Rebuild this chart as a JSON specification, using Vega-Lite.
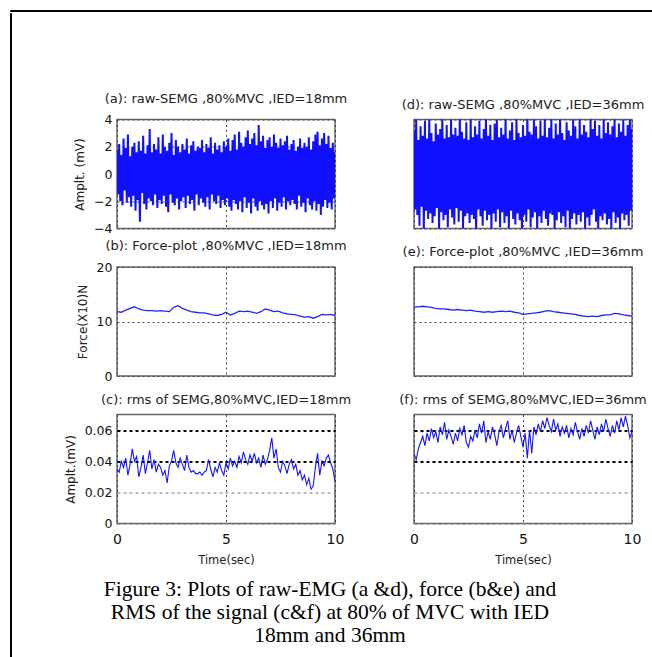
{
"$schema": "https://vega.github.io/schema/vega-lite/v6.json",
"background": "white",
"padding": {"left": 9, "top": 9, "right": 0, "bottom": 0},
"spacing": 0,
"datasets": {
"raw": [
{"t":0,"a":1.8,"d":3.2},{"t":0.05,"a":-1.5,"d":-2.6},{"t":0.1,"a":2.2,"d":4.2},{"t":0.15,"a":-2.0,"d":-3.0},{"t":0.2,"a":1.4,"d":2.5},{"t":0.25,"a":-2.3,"d":-3.8},{"t":0.3,"a":2.6,"d":3.5},{"t":0.35,"a":-1.2,"d":-2.4},{"t":0.4,"a":1.9,"d":2.8},{"t":0.45,"a":-2.1,"d":-4.3},{"t":0.5,"a":2.9,"d":3.9},{"t":0.55,"a":-1.7,"d":-2.7},{"t":0.6,"a":1.3,"d":2.6},{"t":0.65,"a":-2.4,"d":-3.3},{"t":0.7,"a":2.0,"d":4.1},{"t":0.75,"a":-1.6,"d":-2.9},{"t":0.8,"a":2.3,"d":3.0},{"t":0.85,"a":-2.7,"d":-3.6},{"t":0.9,"a":1.6,"d":2.4},{"t":0.95,"a":-1.9,"d":-3.1},
{"t":1,"a":2.4,"d":3.7},{"t":1.05,"a":-3.5,"d":-2.5},{"t":1.1,"a":1.7,"d":2.9},{"t":1.15,"a":-1.4,"d":-4.1},{"t":1.2,"a":2.8,"d":3.3},{"t":1.25,"a":-2.2,"d":-2.8},{"t":1.3,"a":1.5,"d":4.4},{"t":1.35,"a":-2.6,"d":-3.4},{"t":1.4,"a":2.1,"d":2.6},{"t":1.45,"a":-1.8,"d":-3.0},{"t":1.5,"a":3.3,"d":3.6},{"t":1.55,"a":-2.0,"d":-3.9},{"t":1.6,"a":1.6,"d":2.7},{"t":1.65,"a":-2.3,"d":-2.6},{"t":1.7,"a":2.2,"d":4.0},{"t":1.75,"a":-1.5,"d":-3.2},{"t":1.8,"a":1.8,"d":2.9},{"t":1.85,"a":-2.5,"d":-3.7},{"t":1.9,"a":2.7,"d":3.4},{"t":1.95,"a":-1.9,"d":-2.5},
{"t":2,"a":1.5,"d":2.8},{"t":2.05,"a":-2.2,"d":-3.5},{"t":2.1,"a":2.9,"d":4.3},{"t":2.15,"a":-1.6,"d":-2.7},{"t":2.2,"a":2.0,"d":3.1},{"t":2.25,"a":-2.4,"d":-4.0},{"t":2.3,"a":1.7,"d":2.6},{"t":2.35,"a":-2.8,"d":-3.1},{"t":2.4,"a":2.3,"d":3.8},{"t":2.45,"a":-1.5,"d":-2.9},{"t":2.5,"a":3.0,"d":2.5},{"t":2.55,"a":-2.1,"d":-3.6},{"t":2.6,"a":1.4,"d":4.2},{"t":2.65,"a":-2.3,"d":-3.0},{"t":2.7,"a":2.5,"d":2.7},{"t":2.75,"a":-1.8,"d":-3.3},{"t":2.8,"a":2.0,"d":3.5},{"t":2.85,"a":-2.6,"d":-4.4},{"t":2.9,"a":1.6,"d":2.9},{"t":2.95,"a":-2.0,"d":-2.6},
{"t":3,"a":2.2,"d":3.9},{"t":3.05,"a":-1.7,"d":-3.1},{"t":3.1,"a":1.8,"d":2.6},{"t":3.15,"a":-2.5,"d":-3.8},{"t":3.2,"a":2.6,"d":3.3},{"t":3.25,"a":-1.6,"d":-2.7},{"t":3.3,"a":1.5,"d":4.1},{"t":3.35,"a":-2.2,"d":-3.4},{"t":3.4,"a":2.1,"d":2.8},{"t":3.45,"a":-1.9,"d":-3.0},{"t":3.5,"a":2.4,"d":3.6},{"t":3.55,"a":-2.7,"d":-4.2},{"t":3.6,"a":1.7,"d":2.5},{"t":3.65,"a":-1.5,"d":-2.9},{"t":3.7,"a":2.0,"d":3.7},{"t":3.75,"a":-2.3,"d":-3.5},{"t":3.8,"a":1.9,"d":4.0},{"t":3.85,"a":-1.8,"d":-2.6},{"t":3.9,"a":2.5,"d":2.7},{"t":3.95,"a":-2.1,"d":-3.9},
{"t":4,"a":1.6,"d":3.4},{"t":4.05,"a":-2.4,"d":-2.8},{"t":4.1,"a":2.2,"d":2.9},{"t":4.15,"a":-1.7,"d":-3.6},{"t":4.2,"a":1.9,"d":4.3},{"t":4.25,"a":-2.6,"d":-3.1},{"t":4.3,"a":2.7,"d":2.6},{"t":4.35,"a":-1.5,"d":-4.0},{"t":4.4,"a":1.5,"d":3.2},{"t":4.45,"a":-2.0,"d":-2.7},{"t":4.5,"a":2.3,"d":3.8},{"t":4.55,"a":-2.2,"d":-3.3},{"t":4.6,"a":1.8,"d":2.5},{"t":4.65,"a":-1.6,"d":-3.7},{"t":4.7,"a":2.1,"d":4.1},{"t":4.75,"a":-2.5,"d":-2.9},{"t":4.8,"a":1.6,"d":3.0},{"t":4.85,"a":-1.9,"d":-3.4},{"t":4.9,"a":2.4,"d":2.7},{"t":4.95,"a":-2.3,"d":-4.1},
{"t":5,"a":2.0,"d":3.6},{"t":5.05,"a":-1.8,"d":-3.0},{"t":5.1,"a":2.6,"d":2.8},{"t":5.15,"a":-2.4,"d":-3.5},{"t":5.2,"a":1.7,"d":4.4},{"t":5.25,"a":-2.7,"d":-2.6},{"t":5.3,"a":2.5,"d":3.1},{"t":5.35,"a":-1.9,"d":-3.9},{"t":5.4,"a":2.9,"d":2.9},{"t":5.45,"a":-2.2,"d":-3.2},{"t":5.5,"a":1.8,"d":4.0},{"t":5.55,"a":-2.6,"d":-2.8},{"t":5.6,"a":3.1,"d":3.5},{"t":5.65,"a":-2.0,"d":-4.3},{"t":5.7,"a":2.3,"d":2.6},{"t":5.75,"a":-2.8,"d":-3.1},{"t":5.8,"a":2.0,"d":3.9},{"t":5.85,"a":-1.7,"d":-3.6},{"t":5.9,"a":2.7,"d":2.8},{"t":5.95,"a":-2.5,"d":-2.7},
{"t":6,"a":3.2,"d":4.2},{"t":6.05,"a":-2.1,"d":-3.3},{"t":6.1,"a":2.2,"d":2.7},{"t":6.15,"a":-2.9,"d":-3.8},{"t":6.2,"a":2.6,"d":3.4},{"t":6.25,"a":-1.8,"d":-2.9},{"t":6.3,"a":3.0,"d":4.1},{"t":6.35,"a":-2.4,"d":-3.0},{"t":6.4,"a":2.1,"d":2.6},{"t":6.45,"a":-2.7,"d":-4.2},{"t":6.5,"a":3.6,"d":3.7},{"t":6.55,"a":-2.0,"d":-3.4},{"t":6.6,"a":2.4,"d":2.9},{"t":6.65,"a":-2.3,"d":-2.8},{"t":6.7,"a":2.8,"d":4.3},{"t":6.75,"a":-2.6,"d":-3.6},{"t":6.8,"a":1.9,"d":3.0},{"t":6.85,"a":-2.2,"d":-3.1},{"t":6.9,"a":2.5,"d":2.5},{"t":6.95,"a":-2.9,"d":-3.9},
{"t":7,"a":2.7,"d":3.8},{"t":7.05,"a":-2.0,"d":-2.7},{"t":7.1,"a":2.0,"d":3.2},{"t":7.15,"a":-2.5,"d":-4.0},{"t":7.2,"a":2.9,"d":2.8},{"t":7.25,"a":-1.8,"d":-3.3},{"t":7.3,"a":2.3,"d":4.0},{"t":7.35,"a":-2.7,"d":-2.9},{"t":7.4,"a":1.9,"d":3.5},{"t":7.45,"a":-2.1,"d":-3.7},{"t":7.5,"a":2.6,"d":2.6},{"t":7.55,"a":-2.4,"d":-3.0},{"t":7.6,"a":2.1,"d":4.2},{"t":7.65,"a":-1.7,"d":-3.5},{"t":7.7,"a":2.4,"d":2.9},{"t":7.75,"a":-2.6,"d":-2.8},{"t":7.8,"a":2.8,"d":3.6},{"t":7.85,"a":-2.0,"d":-4.1},{"t":7.9,"a":1.8,"d":3.1},{"t":7.95,"a":-2.3,"d":-3.2},
{"t":8,"a":2.2,"d":2.7},{"t":8.05,"a":-1.9,"d":-3.8},{"t":8.1,"a":2.5,"d":4.1},{"t":8.15,"a":-2.2,"d":-3.0},{"t":8.2,"a":1.7,"d":3.3},{"t":8.25,"a":-2.6,"d":-2.6},{"t":8.3,"a":2.0,"d":3.9},{"t":8.35,"a":-1.6,"d":-3.5},{"t":8.4,"a":2.6,"d":2.8},{"t":8.45,"a":-2.4,"d":-4.2},{"t":8.5,"a":1.9,"d":3.6},{"t":8.55,"a":-2.1,"d":-3.1},{"t":8.6,"a":2.3,"d":2.6},{"t":8.65,"a":-2.8,"d":-3.4},{"t":8.7,"a":2.0,"d":4.3},{"t":8.75,"a":-1.8,"d":-2.9},{"t":8.8,"a":2.7,"d":3.0},{"t":8.85,"a":-2.3,"d":-3.7},{"t":8.9,"a":1.8,"d":3.8},{"t":8.95,"a":-2.6,"d":-3.3},
{"t":9,"a":2.4,"d":2.9},{"t":9.05,"a":-2.0,"d":-4.0},{"t":9.1,"a":2.9,"d":3.5},{"t":9.15,"a":-2.7,"d":-2.8},{"t":9.2,"a":3.1,"d":4.2},{"t":9.25,"a":-2.2,"d":-3.6},{"t":9.3,"a":2.1,"d":2.7},{"t":9.35,"a":-3.0,"d":-3.2},{"t":9.4,"a":2.6,"d":3.7},{"t":9.45,"a":-2.4,"d":-4.1},{"t":9.5,"a":3.0,"d":3.1},{"t":9.55,"a":-1.9,"d":-2.9},{"t":9.6,"a":2.2,"d":4.0},{"t":9.65,"a":-2.5,"d":-3.4},{"t":9.7,"a":2.8,"d":2.8},{"t":9.75,"a":-2.1,"d":-3.0},{"t":9.8,"a":1.9,"d":3.6},{"t":9.85,"a":-2.6,"d":-3.8},{"t":9.9,"a":2.3,"d":4.1},{"t":9.95,"a":-1.8,"d":-2.7},{"t":10,"a":1.6,"d":3.3}
],
"force": [
{"t":0,"b":11.8,"e":12.7},{"t":0.2,"b":11.7,"e":12.7},{"t":0.4,"b":12.1,"e":12.8},{"t":0.6,"b":12.4,"e":12.7},{"t":0.8,"b":12.7,"e":12.6},{"t":1.0,"b":12.3,"e":12.4},{"t":1.2,"b":12.1,"e":12.3},{"t":1.4,"b":12.0,"e":12.3},{"t":1.6,"b":12.0,"e":12.2},{"t":1.8,"b":11.9,"e":12.1},
{"t":2.0,"b":12.0,"e":12.2},{"t":2.2,"b":11.9,"e":12.1},{"t":2.4,"b":11.8,"e":12.0},{"t":2.6,"b":12.6,"e":12.1},{"t":2.8,"b":12.9,"e":11.9},{"t":3.0,"b":12.4,"e":11.8},{"t":3.2,"b":12.1,"e":11.7},{"t":3.4,"b":11.8,"e":11.8},{"t":3.6,"b":11.7,"e":11.7},{"t":3.8,"b":11.6,"e":11.8},
{"t":4.0,"b":11.6,"e":11.9},{"t":4.2,"b":11.4,"e":11.8},{"t":4.4,"b":11.2,"e":11.9},{"t":4.6,"b":11.1,"e":11.7},{"t":4.8,"b":11.3,"e":11.6},{"t":5.0,"b":11.7,"e":11.3},{"t":5.2,"b":11.2,"e":11.4},{"t":5.4,"b":11.5,"e":11.5},{"t":5.6,"b":11.9,"e":11.6},{"t":5.8,"b":11.8,"e":11.7},
{"t":6.0,"b":11.9,"e":11.9},{"t":6.2,"b":11.7,"e":12.0},{"t":6.4,"b":11.5,"e":11.8},{"t":6.6,"b":11.8,"e":11.7},{"t":6.8,"b":12.3,"e":11.6},{"t":7.0,"b":12.1,"e":11.5},{"t":7.2,"b":11.8,"e":11.4},{"t":7.4,"b":11.9,"e":11.3},{"t":7.6,"b":11.6,"e":11.1},{"t":7.8,"b":11.4,"e":11.0},
{"t":8.0,"b":11.3,"e":10.9},{"t":8.2,"b":11.2,"e":11.0},{"t":8.4,"b":11.0,"e":10.9},{"t":8.6,"b":10.8,"e":11.1},{"t":8.8,"b":10.9,"e":11.2},{"t":9.0,"b":10.6,"e":11.2},{"t":9.2,"b":10.9,"e":11.5},{"t":9.4,"b":11.3,"e":11.4},{"t":9.6,"b":11.2,"e":11.2},{"t":9.8,"b":11.3,"e":11.1},{"t":10.0,"b":11.1,"e":11.0}
],
"rms": [
{"t":0,"c":0.035,"f":0.045},{"t":0.1,"c":0.033,"f":0.041},{"t":0.2,"c":0.040,"f":0.048},{"t":0.3,"c":0.036,"f":0.052},{"t":0.4,"c":0.042,"f":0.056},{"t":0.5,"c":0.031,"f":0.050},{"t":0.6,"c":0.038,"f":0.058},{"t":0.7,"c":0.048,"f":0.053},{"t":0.8,"c":0.040,"f":0.061},{"t":0.9,"c":0.043,"f":0.055},
{"t":1.0,"c":0.030,"f":0.059},{"t":1.1,"c":0.036,"f":0.052},{"t":1.2,"c":0.044,"f":0.062},{"t":1.3,"c":0.032,"f":0.057},{"t":1.4,"c":0.039,"f":0.065},{"t":1.5,"c":0.047,"f":0.054},{"t":1.6,"c":0.035,"f":0.060},{"t":1.7,"c":0.041,"f":0.056},{"t":1.8,"c":0.033,"f":0.051},{"t":1.9,"c":0.038,"f":0.058},
{"t":2.0,"c":0.036,"f":0.053},{"t":2.1,"c":0.031,"f":0.061},{"t":2.2,"c":0.034,"f":0.057},{"t":2.3,"c":0.026,"f":0.063},{"t":2.4,"c":0.037,"f":0.052},{"t":2.5,"c":0.040,"f":0.049},{"t":2.6,"c":0.047,"f":0.056},{"t":2.7,"c":0.039,"f":0.053},{"t":2.8,"c":0.036,"f":0.060},{"t":2.9,"c":0.042,"f":0.055},
{"t":3.0,"c":0.038,"f":0.064},{"t":3.1,"c":0.034,"f":0.058},{"t":3.2,"c":0.044,"f":0.066},{"t":3.3,"c":0.036,"f":0.052},{"t":3.4,"c":0.033,"f":0.059},{"t":3.5,"c":0.034,"f":0.054},{"t":3.6,"c":0.032,"f":0.062},{"t":3.7,"c":0.032,"f":0.057},{"t":3.8,"c":0.033,"f":0.050},{"t":3.9,"c":0.031,"f":0.059},
{"t":4.0,"c":0.033,"f":0.063},{"t":4.1,"c":0.034,"f":0.055},{"t":4.2,"c":0.041,"f":0.061},{"t":4.3,"c":0.035,"f":0.066},{"t":4.4,"c":0.030,"f":0.054},{"t":4.5,"c":0.036,"f":0.060},{"t":4.6,"c":0.033,"f":0.052},{"t":4.7,"c":0.039,"f":0.058},{"t":4.8,"c":0.034,"f":0.063},{"t":4.9,"c":0.031,"f":0.056},
{"t":5.0,"c":0.039,"f":0.049},{"t":5.1,"c":0.035,"f":0.058},{"t":5.2,"c":0.042,"f":0.042},{"t":5.3,"c":0.037,"f":0.060},{"t":5.4,"c":0.040,"f":0.045},{"t":5.5,"c":0.036,"f":0.062},{"t":5.6,"c":0.043,"f":0.057},{"t":5.7,"c":0.039,"f":0.064},{"t":5.8,"c":0.046,"f":0.059},{"t":5.9,"c":0.041,"f":0.066},
{"t":6.0,"c":0.038,"f":0.061},{"t":6.1,"c":0.044,"f":0.068},{"t":6.2,"c":0.040,"f":0.063},{"t":6.3,"c":0.045,"f":0.059},{"t":6.4,"c":0.039,"f":0.067},{"t":6.5,"c":0.042,"f":0.060},{"t":6.6,"c":0.036,"f":0.064},{"t":6.7,"c":0.044,"f":0.056},{"t":6.8,"c":0.038,"f":0.062},{"t":6.9,"c":0.041,"f":0.058},
{"t":7.0,"c":0.047,"f":0.063},{"t":7.1,"c":0.055,"f":0.055},{"t":7.2,"c":0.042,"f":0.061},{"t":7.3,"c":0.048,"f":0.057},{"t":7.4,"c":0.036,"f":0.065},{"t":7.5,"c":0.033,"f":0.059},{"t":7.6,"c":0.040,"f":0.054},{"t":7.7,"c":0.037,"f":0.061},{"t":7.8,"c":0.032,"f":0.056},{"t":7.9,"c":0.038,"f":0.063},
{"t":8.0,"c":0.041,"f":0.058},{"t":8.1,"c":0.035,"f":0.066},{"t":8.2,"c":0.038,"f":0.060},{"t":8.3,"c":0.031,"f":0.054},{"t":8.4,"c":0.034,"f":0.062},{"t":8.5,"c":0.028,"f":0.057},{"t":8.6,"c":0.031,"f":0.064},{"t":8.7,"c":0.025,"f":0.059},{"t":8.8,"c":0.029,"f":0.067},{"t":8.9,"c":0.022,"f":0.061},
{"t":9.0,"c":0.024,"f":0.056},{"t":9.1,"c":0.036,"f":0.063},{"t":9.2,"c":0.045,"f":0.058},{"t":9.3,"c":0.031,"f":0.066},{"t":9.4,"c":0.040,"f":0.060},{"t":9.5,"c":0.037,"f":0.068},{"t":9.6,"c":0.042,"f":0.062},{"t":9.7,"c":0.044,"f":0.069},{"t":9.8,"c":0.039,"f":0.063},{"t":9.9,"c":0.035,"f":0.055},{"t":10.0,"c":0.027,"f":0.059}
]
},
"vconcat": [
{"width": 642, "height": 1, "data": {"values": []}, "mark": "point", "view": {"stroke": "black", "strokeWidth": 1}},
{"hconcat": [
{"width": 1, "height": 645, "data": {"values": []}, "mark": "point", "view": {"stroke": "black", "strokeWidth": 1}},
{"columns": 2, "bounds": "flush", "spacing": {"row": 38.5, "column": 79},
"title": {"text": ["Figure 3: Plots of raw-EMG (a &d), force (b&e) and", "RMS of the signal (c&f) at 80% of MVC with IED", "18mm and 36mm"], "orient": "bottom", "anchor": "start", "frame": "group", "align": "center", "dx": 213, "font": "Liberation Serif", "fontSize": 21.5, "fontWeight": "normal", "color": "black", "lineHeight": 23, "offset": 12},
"concat": [
{"width": 218, "height": 67.5, "data": {"values": []}, "mark": "point", "view": {"stroke": null}},
{"width": 218, "height": 67.5, "data": {"values": []}, "mark": "point", "view": {"stroke": null}},
{"width": 218, "height": 109, "data": {"name": "raw"}, "title": "(a): raw-SEMG ,80%MVC ,IED=18mm",
 "mark": {"type": "line", "color": "#1010ff", "strokeWidth": 2, "clip": true},
 "encoding": {
  "x": {"field": "t", "type": "quantitative", "scale": {"domain": [0, 10], "nice": false}, "axis": {"values": [0, 5, 10], "labels": false, "title": null}},
  "y": {"field": "a", "type": "quantitative", "scale": {"domain": [-4, 4], "nice": false}, "axis": {"values": [-4, -2, 0, 2, 4], "title": "Amplt. (mV)"}}}},
{"width": 218, "height": 109, "data": {"name": "raw"}, "title": "(d): raw-SEMG ,80%MVC ,IED=36mm",
 "mark": {"type": "line", "color": "#1010ff", "strokeWidth": 2, "clip": true},
 "encoding": {
  "x": {"field": "t", "type": "quantitative", "scale": {"domain": [0, 10], "nice": false}, "axis": {"values": [0, 5, 10], "labels": false, "title": null}},
  "y": {"field": "d", "type": "quantitative", "scale": {"domain": [-4, 4], "nice": false}, "axis": {"values": [-4, -2, 0, 2, 4], "labels": false, "title": null}}}},
{"width": 218, "height": 109, "data": {"name": "force"}, "title": "(b): Force-plot ,80%MVC ,IED=18mm",
 "mark": {"type": "line", "color": "#2424ff", "strokeWidth": 1.3, "clip": true},
 "encoding": {
  "x": {"field": "t", "type": "quantitative", "scale": {"domain": [0, 10], "nice": false}, "axis": {"values": [0, 5, 10], "labels": false, "title": null}},
  "y": {"field": "b", "type": "quantitative", "scale": {"domain": [0, 20], "nice": false}, "axis": {"values": [0, 10, 20], "title": "Force(X10)N"}}}},
{"width": 218, "height": 109, "data": {"name": "force"}, "title": "(e): Force-plot ,80%MVC ,IED=36mm",
 "mark": {"type": "line", "color": "#2424ff", "strokeWidth": 1.3, "clip": true},
 "encoding": {
  "x": {"field": "t", "type": "quantitative", "scale": {"domain": [0, 10], "nice": false}, "axis": {"values": [0, 5, 10], "labels": false, "title": null}},
  "y": {"field": "e", "type": "quantitative", "scale": {"domain": [0, 20], "nice": false}, "axis": {"values": [0, 10, 20], "labels": false, "title": null}}}},
{"width": 218, "height": 109, "data": {"name": "rms"}, "title": "(c): rms of SEMG,80%MVC,IED=18mm",
 "mark": {"type": "line", "color": "#1414ff", "strokeWidth": 1.1, "clip": true},
 "encoding": {
  "x": {"field": "t", "type": "quantitative", "scale": {"domain": [0, 10], "nice": false}, "axis": {"values": [0, 5, 10], "title": "Time(sec)"}},
  "y": {"field": "c", "type": "quantitative", "scale": {"domain": [0, 0.07], "nice": false}, "axis": {"values": [0, 0.02, 0.04, 0.06], "labelExpr": "datum.value == 0 ? '0' : format(datum.value, '.2f')", "title": "Amplt.(mV)", "gridDash": [3, 3], "gridColor": {"condition": {"test": "datum.value >= 0.03", "value": "#000"}, "value": "#777"}, "gridWidth": {"condition": {"test": "datum.value >= 0.03", "value": 1.8}, "value": 1}}}}},
{"width": 218, "height": 109, "data": {"name": "rms"}, "title": "(f): rms of SEMG,80%MVC,IED=36mm",
 "mark": {"type": "line", "color": "#1414ff", "strokeWidth": 1.1, "clip": true},
 "encoding": {
  "x": {"field": "t", "type": "quantitative", "scale": {"domain": [0, 10], "nice": false}, "axis": {"values": [0, 5, 10], "title": "Time(sec)"}},
  "y": {"field": "f", "type": "quantitative", "scale": {"domain": [0, 0.07], "nice": false}, "axis": {"values": [0, 0.02, 0.04, 0.06], "labels": false, "title": null, "gridDash": [3, 3], "gridColor": {"condition": {"test": "datum.value >= 0.03", "value": "#000"}, "value": "#777"}, "gridWidth": {"condition": {"test": "datum.value >= 0.03", "value": 1.8}, "value": 1}}}}}
]}
], "spacing": 51}
],
"config": {
 "view": {"stroke": "#666", "strokeWidth": 1.5},
 "font": "DejaVu Sans",
 "axis": {"domain": false, "ticks": false, "grid": true, "gridColor": "#444", "gridDash": [2, 3], "gridWidth": 1, "labelFont": "DejaVu Sans", "labelFontSize": 12.5, "labelColor": "#111", "titleFont": "DejaVu Sans", "titleFontSize": 12, "titleFontWeight": "normal", "titleColor": "#222", "labelPadding": 5, "titlePadding": 7, "labelFlush": false},
 "axisX": {"labelFontSize": 14, "labelPadding": 9, "titleFontSize": 11.5, "titlePadding": 8},
 "title": {"font": "DejaVu Sans", "fontSize": 13, "fontWeight": "normal", "color": "#222", "frame": "group", "offset": 8}
}
}
